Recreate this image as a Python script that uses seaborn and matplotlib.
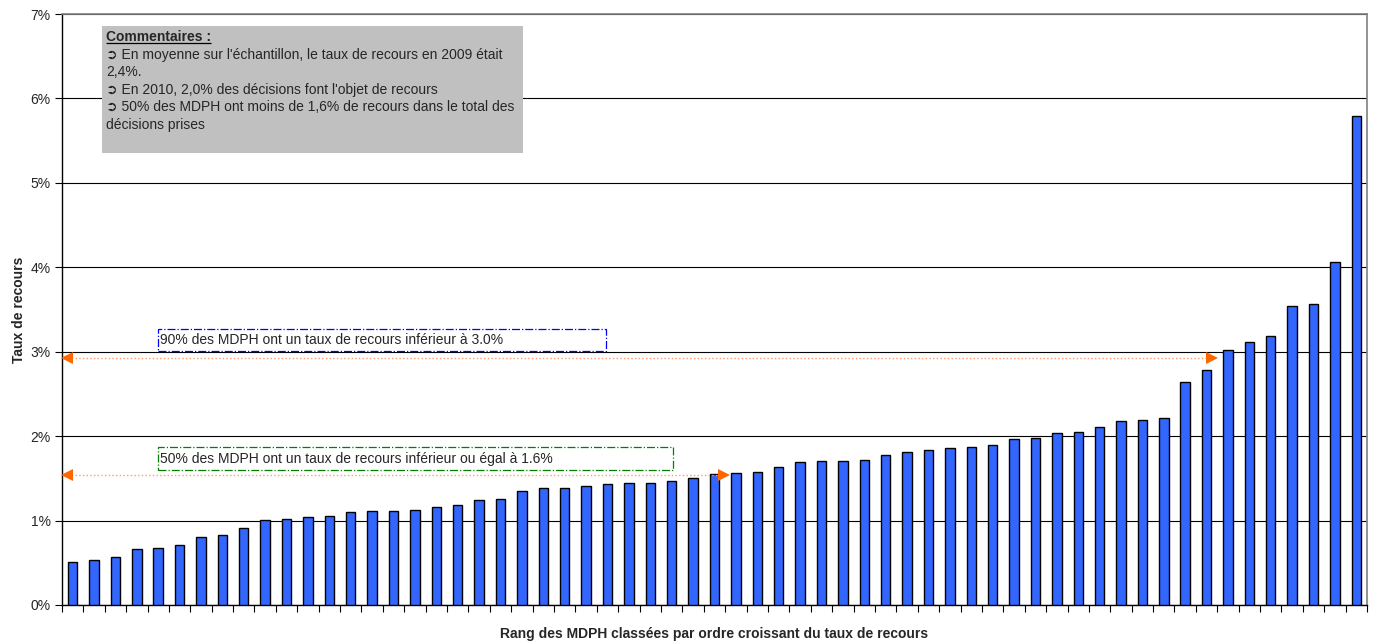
import numpy as np
import pandas as pd
import matplotlib
matplotlib.use("Agg")
import matplotlib.pyplot as plt
from matplotlib.patches import Rectangle
import seaborn as sns

# Taux de recours par MDPH (en %), classés par ordre croissant
taux = [0.51, 0.53, 0.57, 0.66, 0.67, 0.71, 0.81, 0.83, 0.91, 1.01,
        1.02, 1.04, 1.05, 1.10, 1.11, 1.11, 1.13, 1.16, 1.18, 1.24,
        1.26, 1.35, 1.38, 1.38, 1.41, 1.43, 1.45, 1.45, 1.47, 1.51,
        1.55, 1.56, 1.58, 1.63, 1.69, 1.70, 1.71, 1.72, 1.78, 1.81,
        1.83, 1.86, 1.87, 1.90, 1.97, 1.98, 2.04, 2.05, 2.11, 2.18,
        2.19, 2.21, 2.64, 2.78, 3.02, 3.12, 3.19, 3.54, 3.56, 4.06,
        5.79]
rang = list(range(1, len(taux) + 1))
yticks = [0, 1, 2, 3, 4, 5, 6, 7]

commentaires = [
    "\u27b2 En moyenne sur l'échantillon, le taux de recours en 2009 était",
    "2,4%.",
    "\u27b2 En 2010, 2,0% des décisions font l'objet de recours",
    "\u27b2 50% des MDPH ont moins de 1,6% de recours dans le total des",
    "décisions prises",
]
note_90 = "90% des MDPH ont un taux de recours inférieur à 3.0%"
note_50 = "50% des MDPH ont un taux de recours inférieur ou égal à 1.6%"

df = pd.DataFrame({"rang": rang, "taux": taux})

sns.set_style("white")
plt.rcParams["font.family"] = ["Liberation Sans", "DejaVu Sans"]

fig = plt.figure(figsize=(13.76, 6.44), dpi=100)
ax = fig.add_axes([0.045, 0.0606, 0.9485, 0.9176])

sns.barplot(data=df, x="rang", y="taux", color="#3366FF", edgecolor="black",
            linewidth=1.0, width=0.44, saturation=1, ax=ax, zorder=3)

n = len(taux)
ax.set_xlim(-0.5, n - 0.5)
ax.set_ylim(0, 7)
ax.set_yticks(yticks)
ax.set_yticklabels([f"{t}%" for t in yticks], fontsize=10)
ax.set_xticks(np.arange(-0.5, n, 1))
ax.set_xticklabels([])
ax.tick_params(axis="both", direction="out", length=5, width=0.8,
               color="black", bottom=True, left=True, pad=3)
ax.grid(axis="y", color="black", linewidth=0.8, zorder=1)
ax.set_axisbelow(True)
for side in ["left", "bottom"]:
    ax.spines[side].set_color("black")
    ax.spines[side].set_linewidth(1.0)
for side in ["top", "right"]:
    ax.spines[side].set_color("#808080")
    ax.spines[side].set_linewidth(1.2)

ax.set_xlabel("Rang des MDPH classées par ordre croissant du taux de recours",
              fontsize=10, fontweight="bold", labelpad=8)
ax.set_ylabel("Taux de recours", fontsize=10, fontweight="bold", labelpad=3)

# boîte de commentaires
ax.add_patch(Rectangle((1.37, 5.35), 19.68, 1.51, facecolor="#C0C0C0",
                       edgecolor="none", zorder=4))
titre = ax.text(1.55, 6.81, "Commentaires :", fontsize=10, fontweight="bold",
                va="top", ha="left", zorder=5)
y = 6.60
for ligne in commentaires:
    ax.text(1.55, y, ligne, fontsize=10, va="top", ha="left", zorder=5)
    y -= 0.207

fig.canvas.draw()
bb = titre.get_window_extent().transformed(ax.transData.inverted())
ax.plot([bb.x0, bb.x1], [bb.y0 + 0.01, bb.y0 + 0.01], color="black",
        linewidth=0.9, zorder=5, solid_capstyle="butt")

# flèches orange
orange = "#FF6600"
for y_fl, x_fin in [(2.92, 53.4), (1.54, 30.6)]:
    ax.plot([-0.4, x_fin - 0.1], [y_fl, y_fl], color="#FF9966", linestyle=":",
            linewidth=1.0, zorder=4)
    ax.plot([-0.25], [y_fl], marker="<", color=orange, markersize=9,
            markeredgewidth=0, zorder=5, clip_on=False)
    ax.plot([x_fin - 0.15], [y_fl], marker=">", color=orange, markersize=9,
            markeredgewidth=0, zorder=5)

# notes encadrées
ax.add_patch(Rectangle((3.99, 3.01), 20.94, 0.26, facecolor="white",
                       edgecolor="#0000FF", linestyle="-.", linewidth=0.9, zorder=4))
ax.text(4.08, 3.14, note_90, fontsize=10, va="center", ha="left", zorder=5)
ax.add_patch(Rectangle((3.99, 1.60), 24.07, 0.27, facecolor="white",
                       edgecolor="#008000", linestyle="-.", linewidth=0.9, zorder=4))
ax.text(4.08, 1.735, note_50, fontsize=10, va="center", ha="left", zorder=5)

fig.savefig("out.png", dpi=100)
